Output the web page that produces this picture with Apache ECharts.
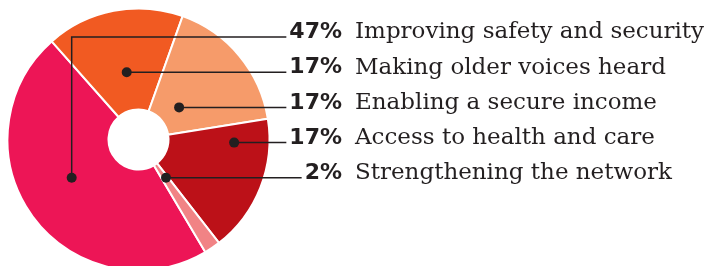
<!DOCTYPE html>
<html lang="en">
<head>
<meta charset="UTF-8">
<title>focus areas</title>
<script src="https://cdn.jsdelivr.net/npm/echarts@6/dist/echarts.min.js"></script>
</head>
<body style="margin:0;background:#fff">
<div id="main" style="width:709px;height:266px"></div>
<script>
// data
var names = ['Improving safety and security', 'Making older voices heard', 'Enabling a secure income', 'Access to health and care', 'Strengthening the network'];
var shares = [47, 17, 17, 17, 2];
var colors = ['#ED1556', '#F15A22', '#F69B6A', '#BC1118', '#F18385'];

// layout
var cx = 138.5, cy = 139.5, R = 131, r0 = 30;
var rowTop = 37, rowGap = 35.2;          // y of the first leader line, row spacing
var pctRight = 342;                      // right edge of the percent figures
var dotOffset = [-0.51, -0.09, 0.31, 0.73, 0.21]; // dot x from centre, in radii
var dotRow = [4, 1, 2, 3, 4];            // which row the dot sits on
var ink = '#231F20';

var ctx = document.createElement('canvas').getContext('2d');
ctx.font = 'bold 22px "DejaVu Sans"';
var pctW = shares.map(function (v) { return ctx.measureText(v + '%').width; });

var graphics = [];
for (var i = 0; i < shares.length; i++) {
    var rowY = rowTop + i * rowGap;
    var dx = cx + dotOffset[i] * R;
    var dy = rowTop + dotRow[i] * rowGap;
    var endX = pctRight - pctW[i] - 3;
    var pts = dy === rowY ? [[dx, dy], [endX, rowY]] : [[dx, dy], [dx, rowY], [endX, rowY]];
    graphics.push({
        type: 'polyline', z: 10, silent: true,
        shape: { points: pts },
        style: { stroke: ink, lineWidth: 1.5, fill: null }
    });
    graphics.push({
        type: 'circle', z: 11, silent: true,
        shape: { cx: dx, cy: dy, r: 5 },
        style: { fill: ink }
    });
}

var myChart = echarts.init(document.getElementById('main'));
var option = {
    animation: false,
    color: colors,
    graphic: graphics,
    series: [{
        type: 'pie',
        center: [cx, cy],
        radius: [r0, R],
        startAngle: -59.3,
        avoidLabelOverlap: false,
        itemStyle: { borderColor: '#fff', borderWidth: 2 },
        emphasis: { disabled: true },
        label: {
            position: 'outside',
            formatter: function (p) { return '{p|' + p.value + '%}{n|' + p.name + '}'; },
            rich: {
                p: { fontFamily: 'DejaVu Sans', fontWeight: 'bold', fontSize: 22, color: ink, lineHeight: 28 },
                n: { fontFamily: 'DejaVu Serif', fontSize: 23, color: ink, lineHeight: 28, padding: [0, 0, 0, 13] }
            }
        },
        labelLine: { show: false },
        labelLayout: function (p) {
            var k = p.dataIndex;
            return { x: pctRight - pctW[k], y: rowTop + k * rowGap - 4.5, align: 'left', verticalAlign: 'middle' };
        },
        data: names.map(function (n, k) { return { name: n, value: shares[k] }; })
    }]
};
myChart.setOption(option);
</script>
</body>
</html>
